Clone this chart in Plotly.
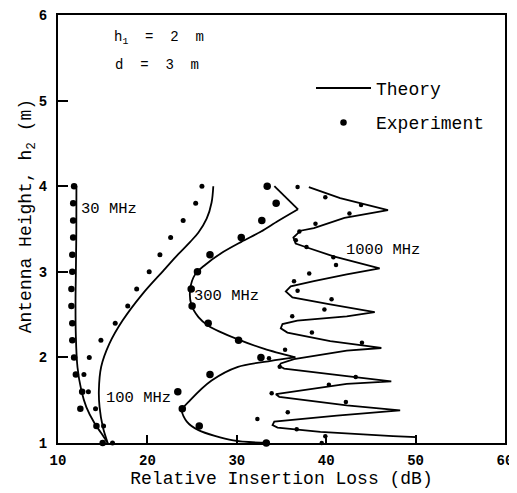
import plotly.graph_objects as go

# ---------------- data ----------------
# Experiment heights (m) for 30, 100, 300 MHz
h_exp = [4.0, 3.8, 3.6, 3.4, 3.2, 3.0, 2.8, 2.6, 2.4, 2.2, 2.0, 1.8, 1.6, 1.4, 1.2, 1.0]
exp_30 = [11.8, 11.7, 11.7, 11.7, 11.6, 11.6, 11.5, 11.5, 11.6, 11.6, 11.8, 12.0, 12.7, 12.5, 14.3, 15.0]
exp_100 = [26.1, 25.4, 24.0, 22.6, 21.4, 20.2, 18.8, 17.8, 16.4, 14.8, 13.5, 12.9, 13.4, 14.2, 15.1, 16.1]
exp_300 = [33.4, 34.4, 32.8, 30.5, 27.0, 25.6, 24.9, 25.0, 26.8, 30.2, 32.7, 27.0, 23.4, 23.9, 25.8, 33.3]

h_exp_1000 = [3.99, 3.87, 3.78, 3.68, 3.56, 3.47, 3.37, 3.29, 3.17, 3.08, 2.98, 2.89, 2.78, 2.68, 2.56,
              2.48, 2.29, 2.17, 2.09, 1.99, 1.89, 1.77, 1.68, 1.58, 1.48, 1.36, 1.28, 1.16, 1.08, 1.0]
exp_1000 = [36.8, 39.9, 43.9, 42.6, 38.8, 37.0, 36.6, 37.8, 40.8, 41.1, 38.1, 36.4, 36.8, 40.6, 39.8,
            36.2, 38.4, 44.0, 35.4, 33.6, 34.8, 43.3, 40.3, 33.9, 42.2, 35.7, 32.3, 36.7, 39.9, 39.5]

# Theory curves
th30_h = [4.0, 3.5, 3.0, 2.66, 2.28, 1.885, 1.61, 1.42, 1.23, 1.116, 1.0]
th30_x = [12.06, 12.05, 12.0, 11.96, 11.99, 12.18, 12.62, 13.17, 14.09, 14.83, 15.56]

th100_h = [4.0, 3.81, 3.62, 3.46, 3.35, 3.2, 3.04, 2.74, 2.43, 2.16, 1.89, 1.61, 1.42, 1.19, 1.0]
th100_x = [27.37, 27.18, 26.63, 25.71, 24.79, 23.4, 22.02, 19.44, 17.22, 15.75, 14.83, 14.57, 14.65, 15.01, 15.56]

th300_seg_h = [
    [4.0, 3.73],
    [3.73, 3.59, 3.47, 3.35, 3.22, 3.08, 2.97, 2.80, 2.62, 2.47, 2.37, 2.21, 2.10, 2.00],
    [2.00, 1.96, 1.89, 1.73, 1.50, 1.38, 1.25, 1.15, 1.03, 1.00],
]
th300_seg_x = [
    [34.2, 36.85],
    [36.85, 34.56, 32.71, 30.50, 28.29, 26.45, 25.34, 24.79, 24.90, 25.71, 26.81, 30.13, 33.09, 36.55],
    [36.55, 33.82, 30.13, 27.18, 24.79, 23.86, 24.41, 25.71, 29.6, 33.5],
]

th1000_h = [3.99, 3.86, 3.72, 3.63, 3.51, 3.48, 3.40, 3.33, 3.29, 3.18, 3.04, 2.97, 2.89, 2.83, 2.77,
            2.70, 2.62, 2.53, 2.48, 2.43, 2.39, 2.34, 2.29, 2.19, 2.11, 2.08, 1.98, 1.93, 1.90, 1.87,
            1.78, 1.72, 1.69, 1.61, 1.57, 1.54, 1.44, 1.38, 1.32, 1.25, 1.21, 1.18, 1.13, 1.08, 1.07, 1.00]
th1000_x = [38.06, 41.56, 46.91, 42.04, 38.62, 37.13, 36.33, 36.58, 37.69, 40.83, 45.98, 42.30, 38.62, 36.03, 35.48,
            36.22, 40.45, 45.43, 42.30, 36.77, 35.11, 34.92, 35.66, 40.45, 46.17, 42.30, 36.40, 34.92, 34.75, 35.30,
            42.30, 47.28, 42.30, 36.77, 34.37, 34.75, 42.30, 48.27, 41.19, 34.19, 34.0, 34.56, 39.35, 47.47, 50.04, 50.04]

x_ticks = [10, 20, 30, 40, 50, 60]
y_ticks = [1, 2, 3, 4, 5, 6]

labels = ["30 MHz", "100 MHz", "300 MHz", "1000 MHz"]
label_x = [15.7, 19.0, 28.8, 46.4]
label_y = [3.73, 1.53, 2.72, 3.26]

FONT = "Liberation Mono, Courier New, monospace"
LW = 1.8

fig = go.Figure()

# theory lines
fig.add_trace(go.Scatter(x=th30_x, y=th30_h, mode="lines", line=dict(color="black", width=LW, shape="spline"),
                         name="Theory", legendgroup="t", showlegend=True))
fig.add_trace(go.Scatter(x=th100_x, y=th100_h, mode="lines", line=dict(color="black", width=LW, shape="spline"),
                         name="Theory", legendgroup="t", showlegend=False))
for sx, sh in zip(th300_seg_x, th300_seg_h):
    fig.add_trace(go.Scatter(x=sx, y=sh, mode="lines", line=dict(color="black", width=LW, shape="spline", smoothing=0.8),
                             name="Theory", legendgroup="t", showlegend=False))
fig.add_trace(go.Scatter(x=th1000_x, y=th1000_h, mode="lines", line=dict(color="black", width=LW),
                         name="Theory", legendgroup="t", showlegend=False))

# experiment points
fig.add_trace(go.Scatter(x=exp_30, y=h_exp, mode="markers", marker=dict(color="black", size=6.5),
                         name="Experiment", legendgroup="e", showlegend=True, cliponaxis=False))
fig.add_trace(go.Scatter(x=exp_100, y=h_exp, mode="markers", marker=dict(color="black", size=5),
                         name="Experiment", legendgroup="e", showlegend=False, cliponaxis=False))
fig.add_trace(go.Scatter(x=exp_300, y=h_exp, mode="markers", marker=dict(color="black", size=7.5),
                         name="Experiment", legendgroup="e", showlegend=False, cliponaxis=False))
fig.add_trace(go.Scatter(x=exp_1000, y=h_exp_1000, mode="markers", marker=dict(color="black", size=4.5),
                         name="Experiment", legendgroup="e", showlegend=False, cliponaxis=False))

# frequency labels
for t, lx, ly in zip(labels, label_x, label_y):
    fig.add_annotation(x=lx, y=ly, text=t, showarrow=False, xanchor="center", yanchor="middle",
                       font=dict(family=FONT, size=15.5, color="black"))

fig.add_annotation(x=16.0, y=5.73, text="h<sub>1</sub>\u00a0\u00a0=\u00a0\u00a02\u00a0\u00a0m", showarrow=False,
                   xanchor="left", yanchor="middle", font=dict(family=FONT, size=14, color="black"))
fig.add_annotation(x=16.1, y=5.42, text="d\u00a0\u00a0=\u00a0\u00a03\u00a0\u00a0m", showarrow=False,
                   xanchor="left", yanchor="middle", font=dict(family=FONT, size=14, color="black"))

# y-axis title (placed as annotation to match the reference's vertical offset)
fig.add_annotation(xref="paper", yref="paper", x=-0.069, y=0.53, text="Antenna Height, h<sub>2</sub> (m)",
                   textangle=-90, showarrow=False, xanchor="center", yanchor="middle",
                   font=dict(family=FONT, size=18, color="black"))

# page body has an 8px default margin: size the figure so the plot frame lands where the reference has it
fig.update_layout(
    width=509, height=485,
    margin=dict(l=50, r=12, t=7, b=50, autoexpand=False),
    paper_bgcolor="white", plot_bgcolor="white",
    font=dict(family=FONT, size=14, color="black"),
    legend=dict(x=0.566, y=0.872, xanchor="left", yanchor="top", bgcolor="rgba(0,0,0,0)",
                font=dict(family=FONT, size=18, color="black"), itemwidth=55, tracegroupgap=8,
                traceorder="grouped"),
    xaxis=dict(range=[10, 60], tickvals=x_ticks, ticktext=[str(v) for v in x_ticks],
               ticks="inside", ticklen=8, tickwidth=1.5, tickcolor="black", automargin=False,
               showline=True, linecolor="black", linewidth=2, mirror=True, showgrid=False, zeroline=False,
               tickfont=dict(family=FONT, size=14, weight="bold"), ticklabelstandoff=3,
               ticklabeloverflow="allow",
               title=dict(text="Relative Insertion Loss (dB)", font=dict(family=FONT, size=18), standoff=2)),
    yaxis=dict(range=[1, 6], tickvals=y_ticks, ticktext=[str(v) for v in y_ticks],
               ticks="inside", ticklen=10, tickwidth=1.5, tickcolor="black", automargin=False,
               showline=True, linecolor="black", linewidth=2, mirror=True, showgrid=False, zeroline=False,
               tickfont=dict(family=FONT, size=14, weight="bold"), ticklabelstandoff=6,
               ticklabeloverflow="allow"),
)

fig.write_html("out.html")
